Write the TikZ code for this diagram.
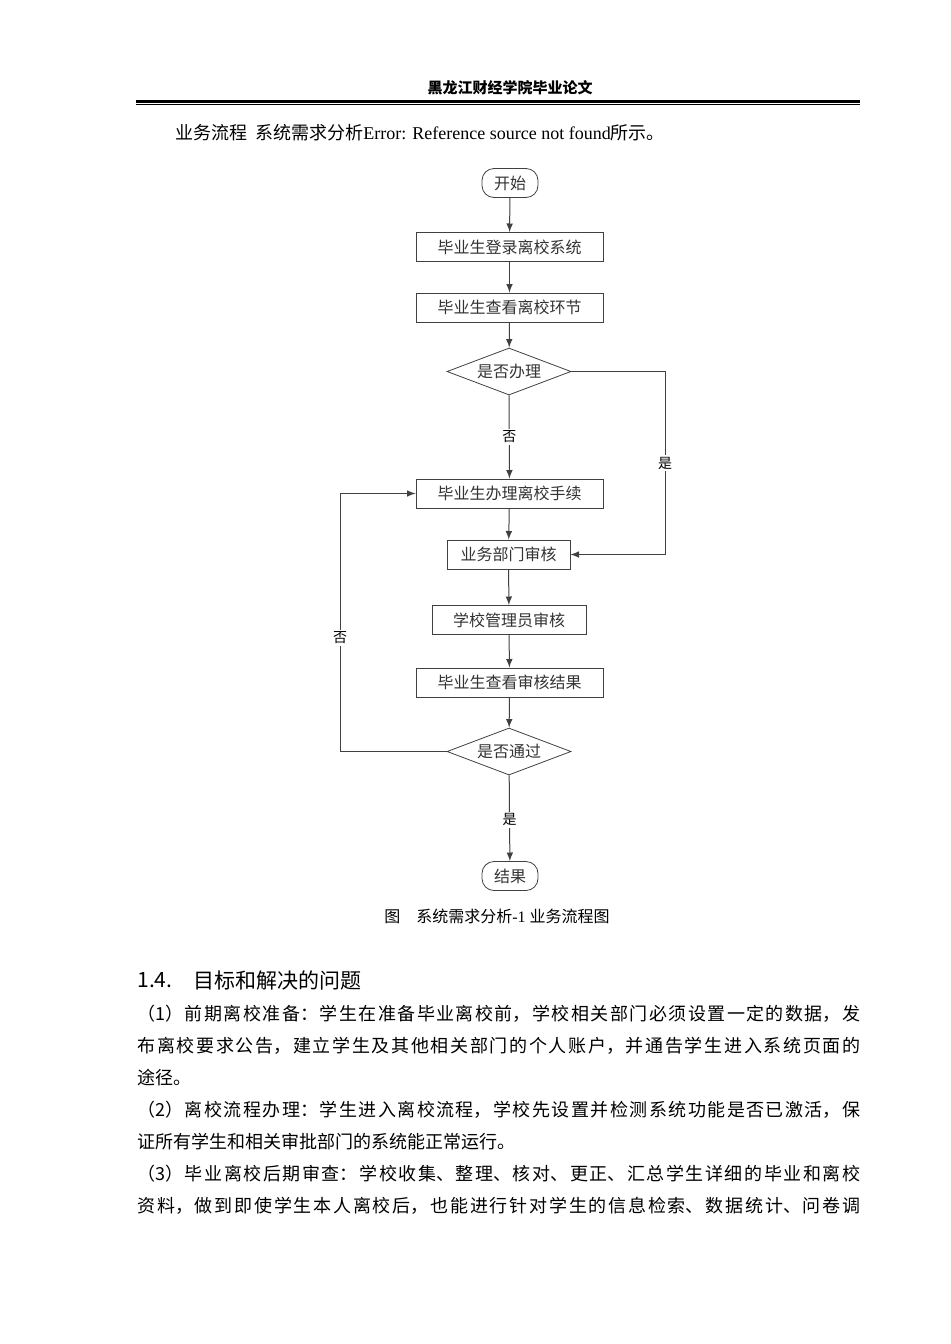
\documentclass[tikz,border=0pt]{standalone}
\usepackage{fontspec}
\setmainfont{Liberation Serif}
\newfontfamily\cjk{Noto Sans CJK SC}
\XeTeXlinebreaklocale "zh"
\XeTeXlinebreakskip=0pt plus 1pt
\usetikzlibrary{positioning}
\usetikzlibrary{shapes,arrows}
\tikzset{
	proc/.style={
		rectangle,
		draw=black!75,
		align=center,
		minimum height=14.5pt,
		inner sep=0pt,
		font=\cjk\fontsize{8}{9}\selectfont,
		text=black!80
	},
	term/.style={
		proc,
		rounded corners=6pt,
		minimum width=28pt
	},
	decide/.style={
		diamond,
		aspect=2.65,
		draw=black!75,
		inner sep=0pt,
		minimum width=62pt,
		minimum height=23.5pt,
		font=\cjk\fontsize{8}{9}\selectfont,
		text=black!80
	},
	flow/.style={draw=black!75, line width=.5pt, -latex},
	lbl/.style={font=\cjk\fontsize{7}{8}\selectfont, fill=white, inner sep=1pt},
	para/.style={anchor=north west, text width=361.5pt, align=justify, inner sep=0pt,
		font=\cjk\fontsize{9}{16}\selectfont}
}
\begin{document}
\begin{tikzpicture}[x=0.5pt,y=-0.5pt]
	\useasboundingbox (0,0) rectangle (950,1344);
	% header
	\node[font=\cjk\bfseries\fontsize{7.5}{8}\selectfont] (Head) at (510,88) {黑龙江财经学院毕业论文};
	\draw[line width=1.5pt] (136,101) -- (860,101);
	\draw[line width=.5pt] (136,104.5) -- (860,104.5);
	\node[anchor=west, inner sep=0pt, font=\fontsize{9}{10}\selectfont] (Intro) at (175,133)
		{{\cjk 业务流程\ \ 系统需求分析}Error: Reference source not found{\cjk 所示。}};
	% flowchart
	\node[term] (Start) at (510,183) {开始};
	\node[proc, minimum width=93.5pt] (Login) at (509.5,247) {毕业生登录离校系统};
	\node[proc, minimum width=93.5pt] (View) at (509.5,307.5) {毕业生查看离校环节};
	\node[decide] (Do) at (509,371.5) {是否办理};
	\node[proc, minimum width=93.5pt] (Handle) at (509.5,493.5) {毕业生办理离校手续};
	\node[proc, minimum width=61.5pt] (Dept) at (508.5,554.5) {业务部门审核};
	\node[proc, minimum width=77pt] (Admin) at (509,620) {学校管理员审核};
	\node[proc, minimum width=93.5pt] (Result) at (509.5,682.5) {毕业生查看审核结果};
	\node[decide] (Pass) at (509,751.5) {是否通过};
	\node[term] (End) at (510,876) {结果};

	\draw[flow] (Start) -- (Login);
	\draw[flow] (Login) -- (View);
	\draw[flow] (View) -- (Do);
	\draw[flow] (Do) -- node[lbl, pos=.5]{否} (Handle);
	\draw[flow] (Do.east) -| node[lbl, pos=.75]{是} (665,554.5) -- (Dept.east);
	\draw[flow] (Handle) -- (Dept);
	\draw[flow] (Dept) -- (Admin);
	\draw[flow] (Admin) -- (Result);
	\draw[flow] (Result) -- (Pass);
	\draw[flow] (Pass.west) -| node[lbl, pos=.72]{否} (340,493.5) -- (Handle.west);
	\draw[flow] (Pass) -- node[lbl, pos=.52]{是} (End);

	\node[font=\fontsize{8}{9}\selectfont] (Caption) at (497,916)
		{{\cjk 图\quad 系统需求分析}-1 {\cjk 业务流程图}};
	% section
	\node[anchor=west, inner sep=0pt, font=\cjk\fontsize{10.5}{12}\selectfont] (SecNo) at (137,980) {1.4.};
	\node[anchor=west, inner sep=0pt, font=\cjk\fontsize{10.5}{12}\selectfont] (SecTitle) at (193,980) {目标和解决的问题};
	\node[para] (Body) at (137,1005) {%
		（1）前期离校准备：学生在准备毕业离校前，学校相关部门必须设置一定的数据，发\linebreak
		布离校要求公告，建立学生及其他相关部门的个人账户，并通告学生进入系统页面的\linebreak
		途径。\\
		（2）离校流程办理：学生进入离校流程，学校先设置并检测系统功能是否已激活，保\linebreak
		证所有学生和相关审批部门的系统能正常运行。\\
		（3）毕业离校后期审查：学校收集、整理、核对、更正、汇总学生详细的毕业和离校\linebreak
		资料，做到即使学生本人离校后，也能进行针对学生的信息检索、数据统计、问卷调\linebreak\mbox{}};
\end{tikzpicture}
\end{document}
